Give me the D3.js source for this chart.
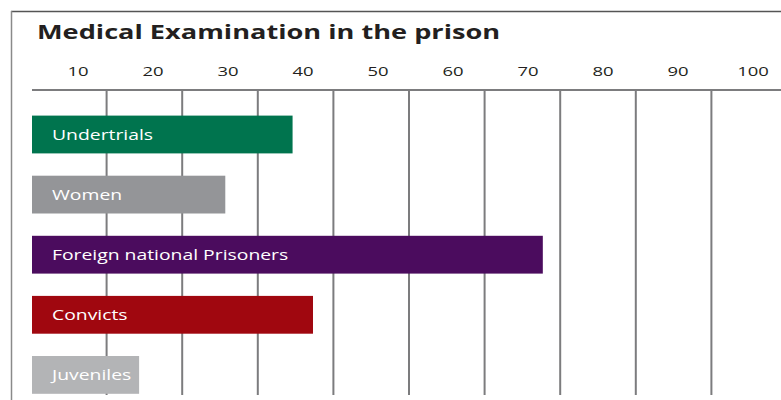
<!DOCTYPE html>
<html>
<head>
<meta charset="utf-8">
<script src="https://cdn.jsdelivr.net/npm/d3@7"></script>
<style>
  html, body { margin: 0; padding: 0; background: #fff; }
  svg { display: block; font-family: "Open Sans", "Noto Sans", sans-serif; }
</style>
</head>
<body>
<svg id="chart" width="781" height="400"></svg>
<script>
// Share of each prisoner group given a medical examination (%)
const categories = ["Undertrials", "Women", "Foreign national Prisoners", "Convicts", "Juveniles"];
const values = [34.6, 25.7, 67.7, 37.3, 14.3];
const colors = ["#00744e", "#949598", "#4b0c5e", "#a0070f", "#b3b4b6"];
const tickValues = [10, 20, 30, 40, 50, 60, 70, 80, 90, 100];
const gridValues = [10, 20, 30, 40, 50, 60, 70, 80, 90];
const title = "Medical Examination in the prison";

const svg = d3.select("#chart");
const W = 781, H = 400;

// value scale for the bars and the vertical rules
const x = d3.scaleLinear().domain([0, 100]).range([31, 787]);
// tick labels sit in the gap to the left of each rule
const xLabel = d3.scaleLinear().domain([10, 100]).range([78, 753]);
const y = d3.scaleBand().domain(categories).range([115.6, 393.8])
  .paddingInner(0.371).paddingOuter(0);

// frame
svg.append("line").attr("x1", 11).attr("x2", W).attr("y1", 11.5).attr("y2", 11.5)
  .attr("stroke", "#555").attr("stroke-width", 1.3);
svg.append("line").attr("x1", 11.5).attr("x2", 11.5).attr("y1", 11).attr("y2", H)
  .attr("stroke", "#8a8a8a").attr("stroke-width", 1.5);

// title
svg.append("text")
  .attr("transform", "translate(37,38.5) scale(1.43,1)")
  .attr("font-size", 19).attr("font-weight", 700).attr("fill", "#231f20")
  .text(title);

// tick labels
svg.append("g").selectAll("text").data(tickValues).join("text")
  .attr("transform", d => `translate(${xLabel(d)},76) scale(1.42,1)`)
  .attr("text-anchor", "middle").attr("font-size", 13).attr("fill", "#231f20")
  .text(d => d);

// baseline rule under the labels
svg.append("line").attr("x1", x(0) + 1).attr("x2", W).attr("y1", 90).attr("y2", 90)
  .attr("stroke", "#7c7c7e").attr("stroke-width", 2);

// vertical rules
svg.append("g").selectAll("line").data(gridValues).join("line")
  .attr("x1", d => x(d)).attr("x2", d => x(d))
  .attr("y1", 90).attr("y2", 395)
  .attr("stroke", "#7c7c7e").attr("stroke-width", 2);

// bars
const rows = categories.map((c, i) => ({ c, v: values[i], col: colors[i] }));
svg.append("g").selectAll("rect").data(rows).join("rect")
  .attr("x", x(0) + 1).attr("y", d => y(d.c))
  .attr("width", d => x(d.v) - x(0) - 1).attr("height", y.bandwidth())
  .attr("fill", d => d.col);

// bar labels
svg.append("g").selectAll("text").data(rows).join("text")
  .attr("transform", d => `translate(52,${y(d.c) + y.bandwidth() / 2 + 5.5}) scale(1.29,1)`)
  .attr("font-size", 15).attr("fill", "#fff")
  .text(d => d.c);
</script>
</body>
</html>
